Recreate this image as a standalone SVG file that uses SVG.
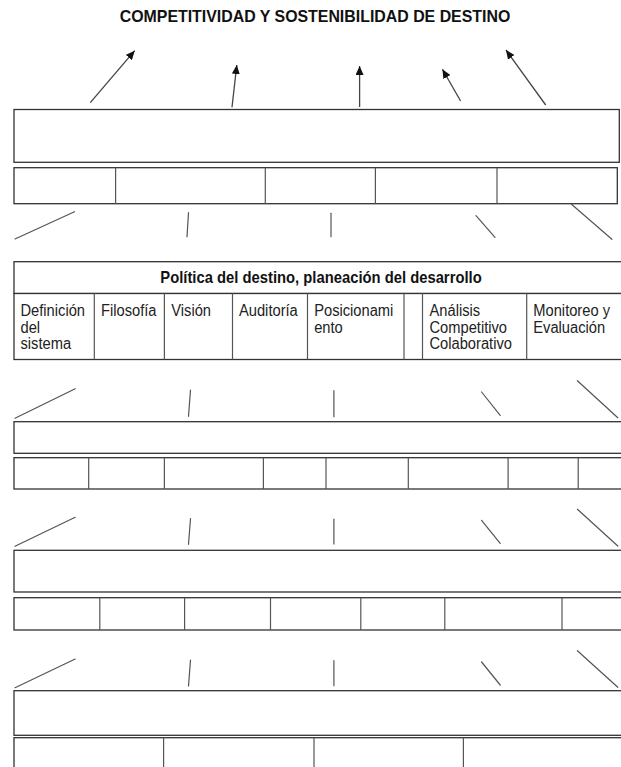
<svg xmlns="http://www.w3.org/2000/svg" width="621" height="767" viewBox="0 0 621 767">
<style>
  .bg { fill: #ffffff; }
  .box { fill: #ffffff; stroke: #333333; stroke-width: 1.3; }
  .cell { fill: none; stroke: #444444; stroke-width: 1.2; }
  .div { stroke: #555555; stroke-width: 1.2; }
  .conn { stroke: #555555; stroke-width: 1.2; fill: none; stroke-linecap: round; }
  .arr { stroke: #444444; stroke-width: 1.3; fill: none; }
  .title { font-family: "Liberation Sans", Arial, sans-serif; font-weight: bold; font-size: 15.9px; fill: #111111; }
  .head { font-family: "Liberation Sans", Arial, sans-serif; font-weight: bold; font-size: 14.8px; fill: #111111; }
  .t { font-family: "Liberation Sans", Arial, sans-serif; font-size: 14.7px; fill: #222222; }
</style>
<defs>
  <marker id="ah" markerUnits="userSpaceOnUse" markerWidth="10" markerHeight="8" refX="9" refY="4" orient="auto">
    <path d="M0,0 L9,4 L0,8 Z" fill="#111111"/>
  </marker>
</defs>
<rect class="bg" x="0" y="0" width="621" height="767"/>

<g id="title">
  <text class="title" x="315" y="22.3" text-anchor="middle">COMPETITIVIDAD Y SOSTENIBILIDAD DE DESTINO</text>
</g>

<g id="box1">
  <rect class="box" x="14" y="109.5" width="605.3" height="52.8"/>
</g>
<g id="row1">
  <rect class="box" x="14" y="167.7" width="603.3" height="36"/>
  <line class="div" x1="115.6" y1="167.7" x2="115.6" y2="203.7"/>
  <line class="div" x1="265.3" y1="167.7" x2="265.3" y2="203.7"/>
  <line class="div" x1="375.4" y1="167.7" x2="375.4" y2="203.7"/>
  <line class="div" x1="497" y1="167.7" x2="497" y2="203.7"/>
</g>

<g id="table">
  <rect class="box" x="14" y="261.7" width="620" height="31.8"/>
  <rect class="box" x="14" y="293.5" width="620" height="66"/>
  <line class="div" x1="94.3" y1="293.5" x2="94.3" y2="359.5"/>
  <line class="div" x1="164.4" y1="293.5" x2="164.4" y2="359.5"/>
  <line class="div" x1="232.5" y1="293.5" x2="232.5" y2="359.5"/>
  <line class="div" x1="307.5" y1="293.5" x2="307.5" y2="359.5"/>
  <line class="div" x1="404" y1="293.5" x2="404" y2="359.5"/>
  <line class="div" x1="422.5" y1="293.5" x2="422.5" y2="359.5"/>
  <line class="div" x1="526.7" y1="293.5" x2="526.7" y2="359.5"/>
  <g transform="matrix(1 0 0 1.1 0 -30)">
    <text class="head" x="321" y="285" text-anchor="middle">Política del destino, planeación del desarrollo</text>
    <text class="t" x="20.5" y="315">Definición</text>
    <text class="t" x="20.5" y="330">del</text>
    <text class="t" x="20.5" y="345">sistema</text>
    <text class="t" x="101" y="315">Filosofía</text>
    <text class="t" x="171.3" y="315">Visión</text>
    <text class="t" x="239" y="315">Auditoría</text>
    <text class="t" x="314.2" y="315">Posicionami</text>
    <text class="t" x="314.2" y="330">ento</text>
    <text class="t" x="429.5" y="315">Análisis</text>
    <text class="t" x="429.5" y="330">Competitivo</text>
    <text class="t" x="429.5" y="345">Colaborativo</text>
    <text class="t" x="533.3" y="315">Monitoreo y</text>
    <text class="t" x="533.3" y="330">Evaluación</text>
  </g>
</g>

<g id="box2">
  <rect class="box" x="14" y="421.7" width="620" height="31.6"/>
</g>
<g id="row2">
  <rect class="box" x="14" y="457.7" width="620" height="31.3"/>
  <line class="div" x1="88.7" y1="457.7" x2="88.7" y2="489"/>
  <line class="div" x1="164.4" y1="457.7" x2="164.4" y2="489"/>
  <line class="div" x1="263.4" y1="457.7" x2="263.4" y2="489"/>
  <line class="div" x1="326" y1="457.7" x2="326" y2="489"/>
  <line class="div" x1="408.3" y1="457.7" x2="408.3" y2="489"/>
  <line class="div" x1="508.1" y1="457.7" x2="508.1" y2="489"/>
  <line class="div" x1="578.2" y1="457.7" x2="578.2" y2="489"/>
</g>

<g id="box3">
  <rect class="box" x="14" y="550.3" width="620" height="41.7"/>
</g>
<g id="row3">
  <rect class="box" x="14" y="597.7" width="620" height="32.3"/>
  <line class="div" x1="99.8" y1="597.7" x2="99.8" y2="630"/>
  <line class="div" x1="184.6" y1="597.7" x2="184.6" y2="630"/>
  <line class="div" x1="270.5" y1="597.7" x2="270.5" y2="630"/>
  <line class="div" x1="360.8" y1="597.7" x2="360.8" y2="630"/>
  <line class="div" x1="444.8" y1="597.7" x2="444.8" y2="630"/>
  <line class="div" x1="562" y1="597.7" x2="562" y2="630"/>
</g>

<g id="box4">
  <rect class="box" x="14" y="690.7" width="620" height="44.6"/>
</g>
<g id="row4">
  <rect class="box" x="14" y="737.7" width="620" height="40"/>
  <line class="div" x1="163.6" y1="737.7" x2="163.6" y2="770"/>
  <line class="div" x1="314" y1="737.7" x2="314" y2="770"/>
  <line class="div" x1="463.4" y1="737.7" x2="463.4" y2="770"/>
</g>

<g id="connectors">
  <line class="arr" x1="90.3" y1="102.7" x2="134.7" y2="50.7" marker-end="url(#ah)"/>
  <line class="arr" x1="232" y1="107.3" x2="236.8" y2="65" marker-end="url(#ah)"/>
  <line class="arr" x1="359.6" y1="107" x2="359.6" y2="66" marker-end="url(#ah)"/>
  <line class="arr" x1="460.6" y1="101" x2="442.4" y2="69.3" marker-end="url(#ah)"/>
  <line class="arr" x1="545.7" y1="105" x2="506" y2="50" marker-end="url(#ah)"/>

  <line class="conn" x1="15" y1="239" x2="74.5" y2="211.7"/>
  <line class="conn" x1="187" y1="236.7" x2="188.5" y2="212.7"/>
  <line class="conn" x1="331" y1="236.7" x2="331" y2="213.3"/>
  <line class="conn" x1="495" y1="237.3" x2="476" y2="215.7"/>
  <line class="conn" x1="611.9" y1="239.3" x2="571.5" y2="204.3"/>

  <line class="conn" x1="15" y1="418.3" x2="75.2" y2="388.7"/>
  <line class="conn" x1="188.5" y1="416.3" x2="190.5" y2="390"/>
  <line class="conn" x1="333.9" y1="416.7" x2="333.9" y2="390.7"/>
  <line class="conn" x1="500.2" y1="415.3" x2="481.6" y2="392"/>
  <line class="conn" x1="617.8" y1="417.7" x2="577.4" y2="380.7"/>

  <line class="conn" x1="15" y1="546.3" x2="75.2" y2="517.3"/>
  <line class="conn" x1="188.5" y1="544.3" x2="190.5" y2="518.7"/>
  <line class="conn" x1="333.9" y1="544" x2="333.9" y2="519"/>
  <line class="conn" x1="500.2" y1="543.3" x2="481.6" y2="520.3"/>
  <line class="conn" x1="617.8" y1="546" x2="577.4" y2="509.3"/>

  <line class="conn" x1="15" y1="687.7" x2="75.2" y2="659"/>
  <line class="conn" x1="188.5" y1="686" x2="190.5" y2="660"/>
  <line class="conn" x1="333.9" y1="685.7" x2="333.9" y2="660.7"/>
  <line class="conn" x1="500.2" y1="685" x2="481.6" y2="662"/>
  <line class="conn" x1="617.8" y1="687.3" x2="577.4" y2="650.7"/>
</g>
</svg>
